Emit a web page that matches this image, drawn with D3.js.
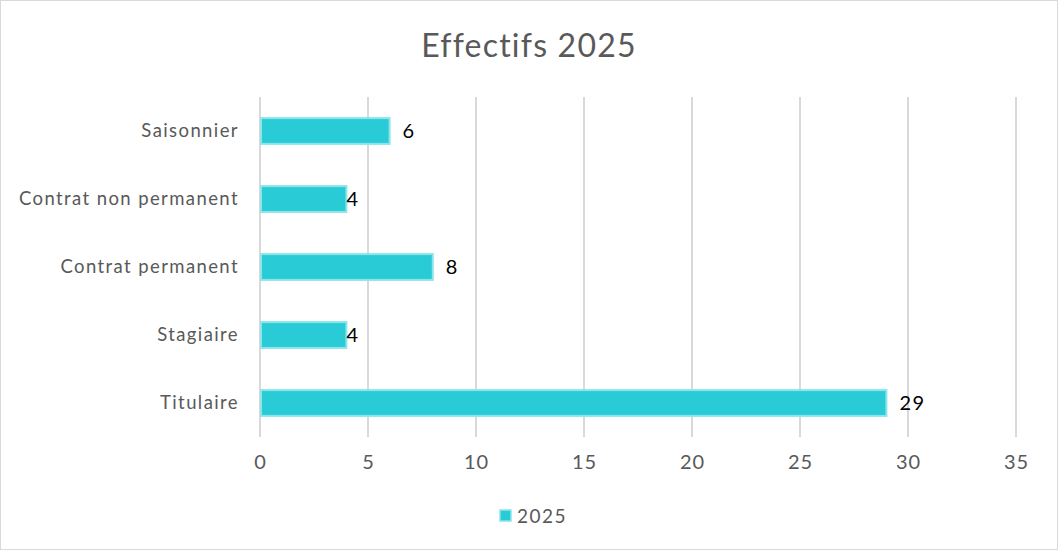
<!DOCTYPE html>
<html><head><meta charset="utf-8">
<script src="https://cdn.jsdelivr.net/npm/d3@7"></script>
<style>
html,body{margin:0;padding:0;background:#fff;}
svg text{font-family:"Lato","Open Sans",sans-serif;}
</style></head>
<body>
<svg id="chart" width="1059" height="552"></svg>
<script>
const title = "Effectifs 2025";
const categories = ["Saisonnier","Contrat non permanent","Contrat permanent","Stagiaire","Titulaire"];
const values = [6,4,8,4,29];
const seriesName = "2025";
const xTicks = [0,5,10,15,20,25,30,35];

const W = 1059, H = 552;
const svg = d3.select("#chart");
svg.append("rect").attr("x",0.5).attr("y",0.5).attr("width",W-2).attr("height",H-3)
  .attr("fill","#fff").attr("stroke","#d9d9d9").attr("stroke-width",1);

const x = d3.scaleLinear().domain([0,35]).range([260,1016]);
const y = d3.scaleBand().domain(categories).range([97,437]).paddingInner(0.62).paddingOuter(0.31);

// gridlines
svg.append("g").selectAll("line").data(xTicks).join("line")
  .attr("x1",d=>x(d)).attr("x2",d=>x(d)).attr("y1",97).attr("y2",437)
  .attr("stroke","#d9d9d9").attr("stroke-width",2);

// x axis labels
const xa = svg.append("g").attr("transform","translate(0,437)")
  .call(d3.axisBottom(x).tickValues(xTicks).tickSize(0).tickPadding(18).tickFormat(d3.format("d")));
xa.select(".domain").remove();
xa.selectAll("text").attr("font-size",20).attr("fill","#595959")
  .style("font-family","Lato").style("letter-spacing","1px");

// y axis labels
const ya = svg.append("g").attr("transform","translate(260,0)")
  .call(d3.axisLeft(y).tickSize(0).tickPadding(21));
ya.select(".domain").remove();
ya.selectAll("text").attr("font-size",18.5).attr("fill","#595959")
  .style("font-family","Lato").style("letter-spacing","1.4px");

// bars
svg.append("g").selectAll("rect").data(values).join("rect")
  .attr("x",x(0)+1).attr("y",(d,i)=>y(categories[i]))
  .attr("width",d=>x(d)-x(0)-1).attr("height",y.bandwidth())
  .attr("fill","#29CCD6").attr("stroke","#8BE5EA").attr("stroke-width",2);

// data labels
const shortCats = new Set(["Contrat non permanent","Stagiaire"]);
svg.append("g").selectAll("text").data(values).join("text")
  .attr("x",(d,i)=>x(d)+(shortCats.has(categories[i])?0:13))
  .attr("y",(d,i)=>y(categories[i])+y.bandwidth()/2)
  .attr("dy","0.36em").attr("font-size",20).attr("fill","#000")
  .style("letter-spacing","1.5px")
  .text(d=>d);

// title
svg.append("text").attr("x",529).attr("y",57).attr("text-anchor","middle")
  .attr("font-size",32).attr("fill","#595959").style("letter-spacing","1.2px").text(title);

// legend
svg.append("rect").attr("x",500).attr("y",510).attr("width",11).attr("height",11)
  .attr("fill","#29CCD6").attr("stroke","#8BE5EA").attr("stroke-width",1.5);
svg.append("text").attr("x",517).attr("y",516).attr("dy","0.36em")
  .attr("font-size",19).attr("fill","#595959").style("letter-spacing","1.5px").text(seriesName);
</script>
</body></html>
